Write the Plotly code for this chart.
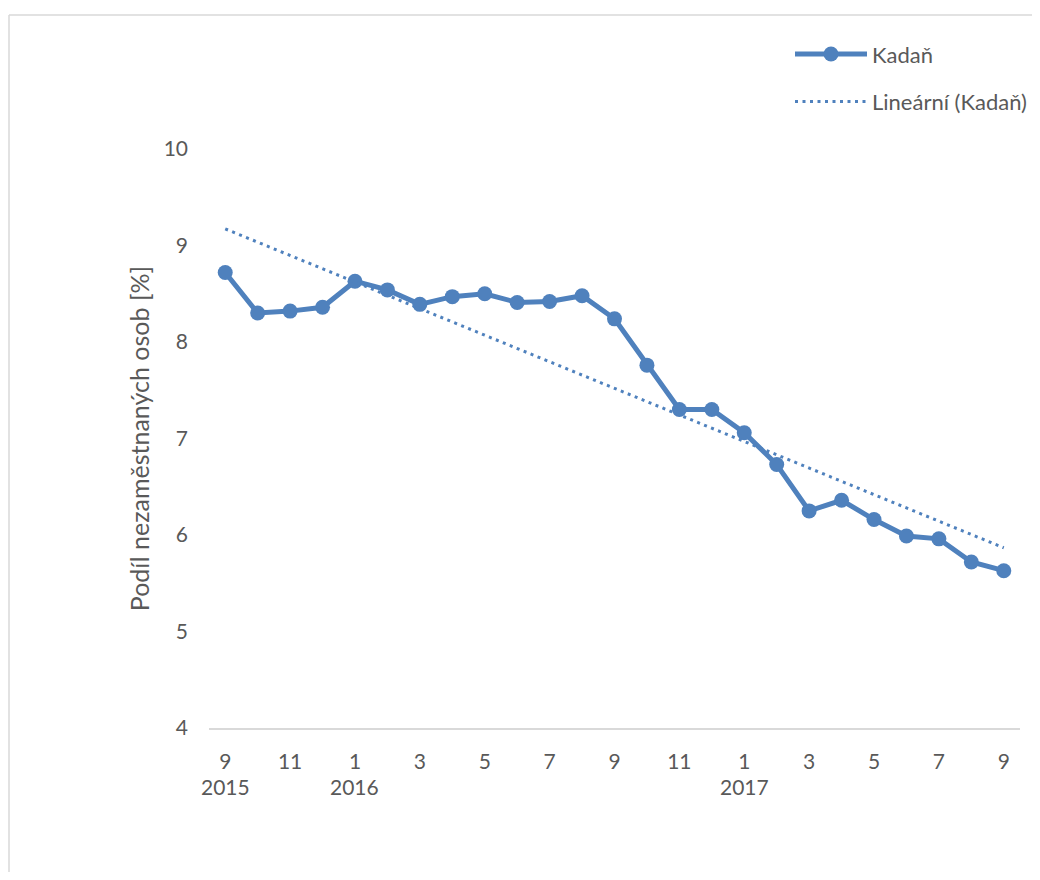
import numpy as np
import plotly.graph_objects as go

months = [9, 10, 11, 12, 1, 2, 3, 4, 5, 6, 7, 8, 9, 10, 11, 12, 1, 2, 3, 4, 5, 6, 7, 8, 9]
years = [2015, 2015, 2015, 2015, 2016, 2016, 2016, 2016, 2016, 2016, 2016, 2016, 2016, 2016, 2016, 2016,
         2017, 2017, 2017, 2017, 2017, 2017, 2017, 2017, 2017]
values = [8.72, 8.30, 8.32, 8.36, 8.63, 8.54, 8.39, 8.47, 8.50, 8.41, 8.42, 8.48, 8.24, 7.76,
          7.30, 7.30, 7.06, 6.73, 6.25, 6.36, 6.16, 5.99, 5.96, 5.72, 5.63]
y_ticks = [4, 5, 6, 7, 8, 9, 10]

x = list(range(len(values)))
slope, intercept = np.polyfit(x, values, 1)
trend = [slope * xi + intercept for xi in x]

color = "#4F81BD"
font = "Lato, Open Sans, sans-serif"
txt = "#595959"

fig = go.Figure()
fig.add_trace(go.Scatter(x=x, y=values, mode="lines+markers", name="Kadaň", legendgroup="a",
                         line=dict(color=color, width=5),
                         marker=dict(size=15, color=color)))
fig.add_trace(go.Scatter(x=x, y=trend, mode="lines", name="Lineární (Kadaň)", legendgroup="b",
                         line=dict(color=color, width=3, dash="3px,4.5px")))

tickvals = x[::2]
ticktext = [str(months[i]) for i in tickvals]

seen = set()
for i, yr in enumerate(years):
    if yr not in seen:
        seen.add(yr)
        fig.add_annotation(x=i, y=0, xref="x", yref="paper", text=str(yr), showarrow=False,
                           yshift=-73, font=dict(family=font, size=21, color=txt))

# chart-area border (left and top edges visible)
fig.add_shape(type="line", xref="paper", yref="paper", x0=-0.2466, x1=-0.2466, y0=-0.4, y1=1.2314,
              line=dict(color="#D9D9D9", width=1.5), layer="below")
fig.add_shape(type="line", xref="paper", yref="paper", x0=-0.2466, x1=1.06, y0=1.2314, y1=1.2314,
              line=dict(color="#D9D9D9", width=1.5), layer="below")

fig.update_layout(
    width=1024, height=864,
    margin=dict(l=201, r=12, t=141, b=144, autoexpand=False),
    paper_bgcolor="white", plot_bgcolor="white",
    font=dict(family=font, size=21, color=txt),
    showlegend=True,
    legend=dict(x=1.0148, y=1.2, xanchor="right", yanchor="top", font=dict(size=22, color=txt),
                tracegroupgap=16, itemwidth=72, bgcolor="rgba(0,0,0,0)"),
    xaxis=dict(range=[-0.5, 24.5], tickvals=tickvals, ticktext=ticktext, showgrid=False,
               zeroline=False, showline=True, linecolor="#D9D9D9", linewidth=1.5,
               ticks="", ticklabelstandoff=14, tickfont=dict(size=21, color=txt)),
    yaxis=dict(range=[4, 10], tickvals=y_ticks, showgrid=False, zeroline=False, showline=False,
               ticks="", ticklabelstandoff=20, tickfont=dict(size=21, color=txt),
               title=dict(text="Podíl nezaměstnaných osob [%]", font=dict(size=25, color=txt), standoff=6)),
)

fig.write_html("out.html")
